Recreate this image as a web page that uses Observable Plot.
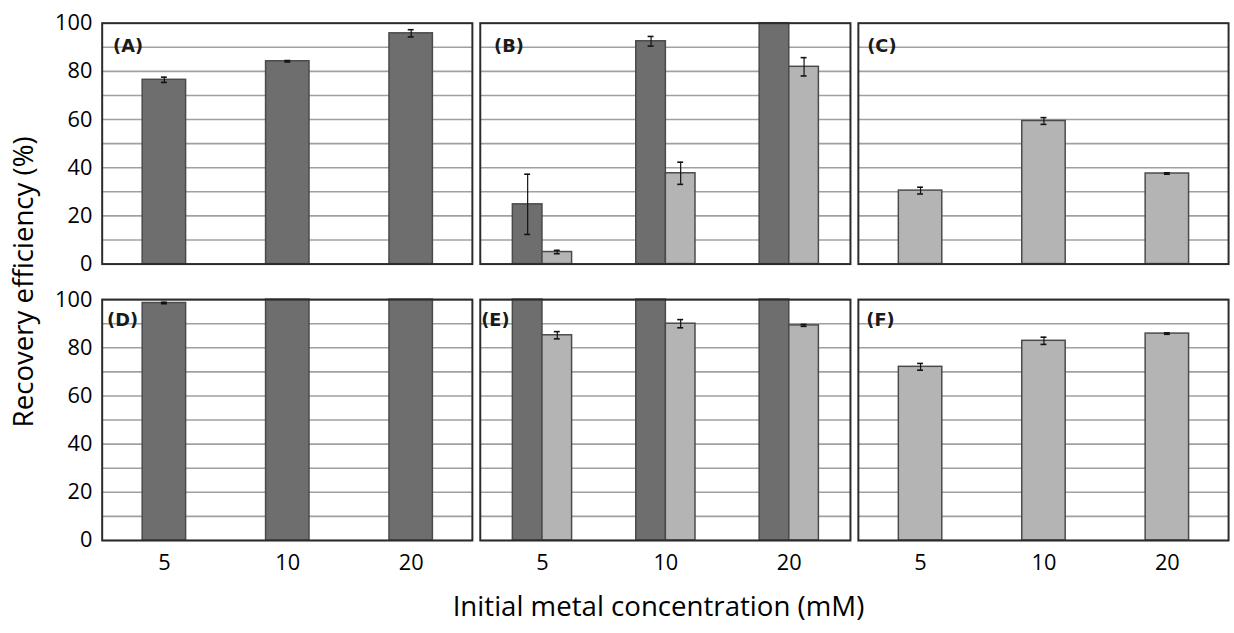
<!DOCTYPE html>
<html>
<head>
<meta charset="utf-8">
<script src="https://cdn.jsdelivr.net/npm/d3@7"></script>
<script src="https://cdn.jsdelivr.net/npm/@observablehq/plot@0.6"></script>
<style>
  html, body { margin: 0; padding: 0; background: #fff; overflow: hidden; }
</style>
</head>
<body>
<div id="chart"></div>
<script>
// ---- data ----
const concentrations = ["5", "10", "20"];
const yTicks = [0, 20, 40, 60, 80, 100];
const gridTicks = [0, 10, 20, 30, 40, 50, 60, 70, 80, 90, 100];
const panelIds = ["A", "B", "C", "D", "E", "F"];
const yTitle = "Recovery efficiency (%)";
const xTitle = "Initial metal concentration (mM)";

const darkA = [76.5, 84.2, 95.8];   const darkAErr = [1.1, 0.3, 1.5];
const darkB = [24.8, 92.5, 100];    const darkBErr = [12.5, 2.0, 0];
const lightB = [5.0, 37.7, 81.9];   const lightBErr = [0.7, 4.6, 3.8];
const lightC = [30.5, 59.4, 37.6];  const lightCErr = [1.4, 1.4, 0.3];
const darkD = [98.6, 100, 100];     const darkDErr = [0.3, 0, 0];
const darkE = [100, 100, 100];      const darkEErr = [0, 0, 0];
const lightE = [85.2, 90.0, 89.3];  const lightEErr = [1.5, 1.7, 0.4];
const lightF = [72.1, 82.9, 85.9];  const lightFErr = [1.4, 1.5, 0.3];

// ---- build table ----
function series(panel, kind, layout, values, errs) {
  const i = panelIds.indexOf(panel);
  return concentrations.map((c, j) => ({
    panel, kind, layout, col: i % 3, row: Math.floor(i / 3),
    conc: c, value: values[j], err: errs[j]
  }));
}
const rows = [
  ...series("A", "dark", "single", darkA, darkAErr),
  ...series("B", "dark", "left", darkB, darkBErr),
  ...series("B", "light", "right", lightB, lightBErr),
  ...series("C", "light", "single", lightC, lightCErr),
  ...series("D", "dark", "single", darkD, darkDErr),
  ...series("E", "dark", "left", darkE, darkEErr),
  ...series("E", "light", "right", lightE, lightEErr),
  ...series("F", "light", "single", lightF, lightFErr)
];

// ---- styles ----
const DARK = "#6e6e6e", LIGHT = "#b4b4b4", BAR_STROKE = "#4a4a4a";
const BAND = 60;          // x bandwidth in px
const HALF = BAND / 2;
const CAP = 3;
const offsets = { single: 0, left: -HALF / 2, right: HALF / 2 };
const barInsets = {
  single: { insetLeft: 8, insetRight: 8 },
  left: { insetLeft: 0, insetRight: HALF },
  right: { insetLeft: HALF, insetRight: 0 }
};
const labelDx = { A: 11, B: 14, C: 9, D: 5, E: 1, F: 8 };
const labelDy = [23, 21];

const fx = { fx: "col", fy: "row" };
const marks = [
  Plot.gridY(gridTicks, { stroke: "#a0a0a0", strokeOpacity: 1, strokeWidth: 1.6 })
];

for (const layout of ["single", "left", "right"]) {
  for (const kind of ["dark", "light"]) {
    const data = rows.filter(d => d.layout === layout && d.kind === kind);
    if (!data.length) continue;
    marks.push(Plot.barY(data, {
      ...fx, x: "conc", y: "value",
      fill: kind === "dark" ? DARK : LIGHT,
      stroke: BAR_STROKE, strokeWidth: 1.5,
      ...barInsets[layout]
    }));
    const ed = data.filter(d => d.err > 0);
    const off = offsets[layout];
    marks.push(Plot.ruleX(ed, {
      ...fx, x: "conc", y1: d => d.value - d.err, y2: d => Math.min(100, d.value + d.err),
      dx: off, stroke: "#111", strokeWidth: 1.2
    }));
    for (const sign of [-1, 1]) {
      marks.push(Plot.tickY(ed, {
        ...fx, x: "conc", y: d => Math.min(100, d.value + sign * d.err),
        insetLeft: HALF - CAP + off, insetRight: HALF - CAP - off,
        stroke: "#111", strokeWidth: 1.6
      }));
    }
  }
}

marks.push(Plot.frame({ stroke: "#2b2b2b", strokeWidth: 2 }));

marks.push(Plot.axisY(yTicks, { tickSize: 0, tickPadding: 10, label: null, fontSize: 22, fill: "#000" }));
marks.push(Plot.axisX({ tickSize: 0, tickPadding: 14, label: null, fontSize: 22, fill: "#000" }));

panelIds.forEach((id, i) => {
  marks.push(Plot.text([{ col: i % 3, row: Math.floor(i / 3), t: `(${id})` }], {
    ...fx, text: "t", frameAnchor: "top-left", textAnchor: "start", lineAnchor: "middle",
    dx: labelDx[id], dy: labelDy[Math.floor(i / 3)],
    fontFamily: "DejaVu Sans", fontWeight: "bold", fontSize: 18, fill: "#1a1a1a"
  }));
});

marks.push(Plot.text([{ col: 0, row: 0, t: yTitle }], {
  ...fx, text: "t", frameAnchor: "bottom-left", rotate: -90,
  textAnchor: "middle", lineAnchor: "middle", dx: -79, dy: 18, fontSize: 28, fill: "#000"
}));
marks.push(Plot.text([{ col: 1, row: 1, t: xTitle }], {
  ...fx, text: "t", frameAnchor: "bottom",
  textAnchor: "middle", lineAnchor: "bottom", dx: -7, dy: 76, fontSize: 28, fill: "#000"
}));

const chart = Plot.plot({
  width: 1250,
  height: 633,
  marginLeft: 103,
  marginRight: 6,
  marginTop: 23,
  marginBottom: 85,
  style: { fontFamily: "'Open Sans', sans-serif", fontSize: "22px", color: "#000", background: "#fff" },
  fx: { domain: [0, 1, 2], paddingInner: 0.021, paddingOuter: 0, axis: null },
  fy: { domain: [0, 1], paddingInner: 0.128, paddingOuter: 0, axis: null },
  x: { type: "band", domain: concentrations, paddingInner: 1 - BAND / 125, paddingOuter: (1 - BAND / 125) / 2 },
  y: { domain: [0, 100] },
  marks
});
document.getElementById("chart").appendChild(chart);
</script>
</body>
</html>
